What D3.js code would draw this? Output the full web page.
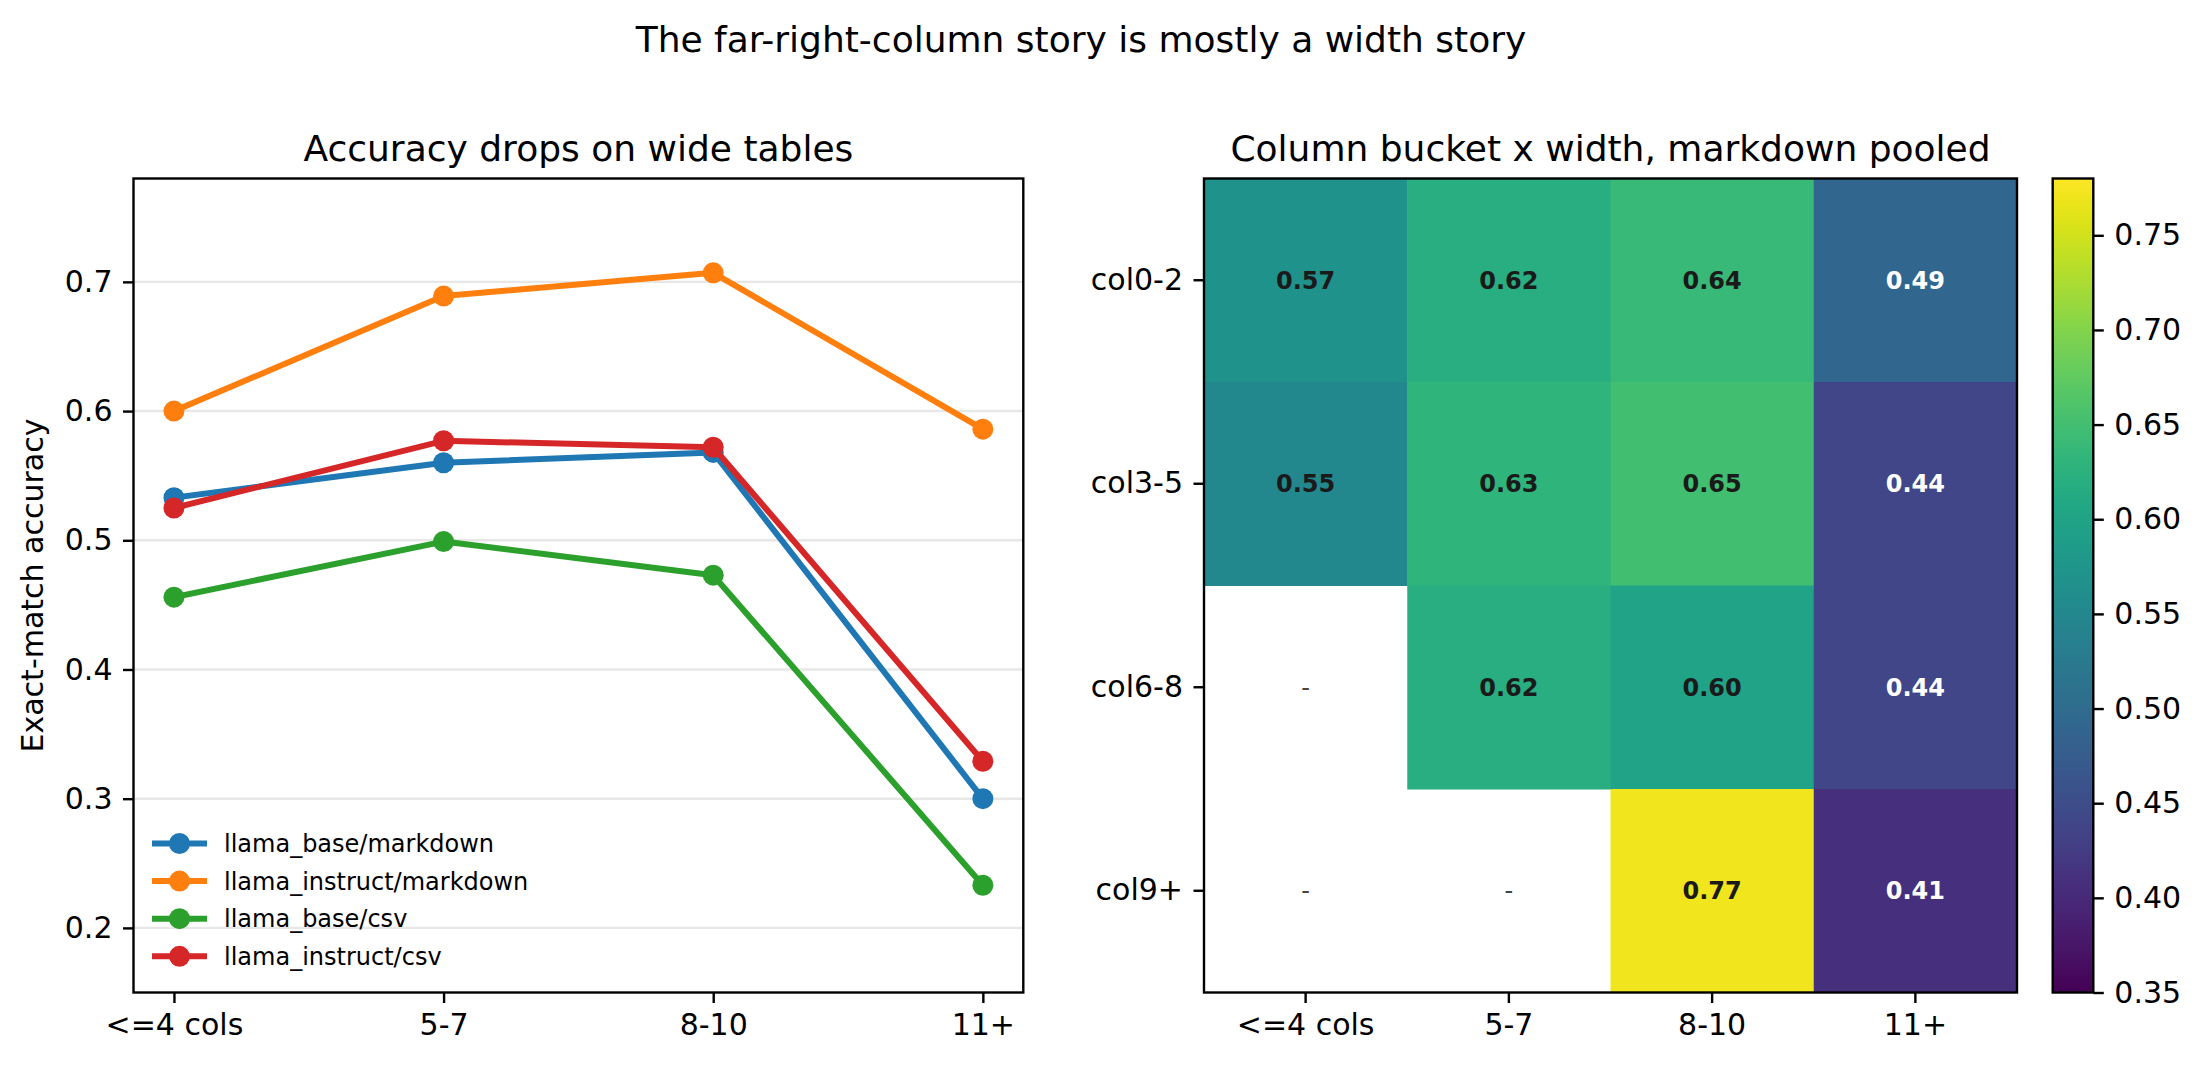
<!DOCTYPE html>
<html>
<head>
<meta charset="utf-8">
<script src="https://cdn.jsdelivr.net/npm/d3@7"></script>
<style>
  body { margin: 0; background: #fff; }
  svg { display: block; font-family: "DejaVu Sans", sans-serif; }
  .axis path.domain { display: none; }
  .axis line { stroke: #000; stroke-width: 2.4; }
  .axis text { font-size: 30px; fill: #000; font-family: "DejaVu Sans", sans-serif; }
</style>
</head>
<body>
<div id="chart"></div>
<script>

// data
const buckets = ["<=4 cols", "5-7", "8-10", "11+"];
const seriesNames = ["llama_base/markdown", "llama_instruct/markdown", "llama_base/csv", "llama_instruct/csv"];
const seriesColors = ["#1f77b4", "#ff7f0e", "#2ca02c", "#d62728"];
const baseMarkdown = [0.533, 0.560, 0.568, 0.300];
const instructMarkdown = [0.600, 0.689, 0.707, 0.586];
const baseCsv = [0.456, 0.499, 0.473, 0.233];
const instructCsv = [0.525, 0.577, 0.572, 0.329];
const yTicks = [0.2, 0.3, 0.4, 0.5, 0.6, 0.7];

const rowLabels = ["col0-2", "col3-5", "col6-8", "col9+"];
const heatValues = [
    [0.57, 0.62, 0.64, 0.49],
    [0.55, 0.63, 0.65, 0.44],
    [null, 0.62, 0.60, 0.44],
    [null, null, 0.77, 0.41]
];
const cbarTicks = [0.35, 0.40, 0.45, 0.50, 0.55, 0.60, 0.65, 0.70, 0.75];

const W = 2204, H = 1065;

const svg = d3.select("#chart").append("svg")
    .attr("width", W)
    .attr("height", H);

// suptitle
svg.append("text")
    .attr("x", 1081).attr("y", 52)
    .attr("text-anchor", "middle")
    .style("font-size", "36px")
    .text("The far-right-column story is mostly a width story");

// ---------- left: line chart ----------
const L = {left: 133.5, right: 1023.3, top: 178.5, bottom: 992.5};

const x = d3.scalePoint()
    .domain(buckets)
    .range([L.left, L.right])
    .padding(0.15);

const y = d3.scaleLinear()
    .domain([0.15, 0.78])
    .range([L.bottom, L.top]);

// grid
svg.append("g")
    .selectAll("line")
    .data(yTicks)
    .join("line")
    .attr("x1", L.left).attr("x2", L.right)
    .attr("y1", d => y(d)).attr("y2", d => y(d))
    .attr("stroke", "#b0b0b0")
    .attr("stroke-opacity", 0.3)
    .attr("stroke-width", 2.4);

const series = [baseMarkdown, instructMarkdown, baseCsv, instructCsv];

const line = d3.line()
    .x((d, i) => x(buckets[i]))
    .y(d => y(d));

series.forEach((vals, k) => {
    svg.append("path")
        .datum(vals)
        .attr("d", line)
        .attr("fill", "none")
        .attr("stroke", seriesColors[k])
        .attr("stroke-width", 6)
        .attr("stroke-linejoin", "round")
        .attr("stroke-linecap", "square");
    svg.append("g")
        .selectAll("circle")
        .data(vals)
        .join("circle")
        .attr("cx", (d, i) => x(buckets[i]))
        .attr("cy", d => y(d))
        .attr("r", 10.5)
        .attr("fill", seriesColors[k]);
});

svg.append("g")
    .attr("class", "axis")
    .attr("transform", `translate(0, ${L.bottom})`)
    .call(d3.axisBottom(x).tickSize(10.5).tickPadding(10.5));

svg.append("g")
    .attr("class", "axis")
    .attr("transform", `translate(${L.left}, 0)`)
    .call(d3.axisLeft(y).tickValues(yTicks).tickFormat(d3.format(".1f")).tickSize(10.5).tickPadding(10.5));

svg.append("rect")
    .attr("x", L.left).attr("y", L.top)
    .attr("width", L.right - L.left).attr("height", L.bottom - L.top)
    .attr("fill", "none").attr("stroke", "#000").attr("stroke-width", 2.4);

svg.append("text")
    .attr("transform", `translate(43, ${(L.top + L.bottom) / 2}) rotate(-90)`)
    .attr("text-anchor", "middle")
    .style("font-size", "30px")
    .text("Exact-match accuracy");

svg.append("text")
    .attr("x", (L.left + L.right) / 2).attr("y", 161)
    .attr("text-anchor", "middle")
    .style("font-size", "36px")
    .text("Accuracy drops on wide tables");

// legend
const leg = svg.append("g")
    .selectAll("g")
    .data(seriesNames)
    .join("g")
    .attr("transform", (d, i) => `translate(152, ${843.5 + i * 37.6})`);
leg.append("line")
    .attr("x1", 0).attr("x2", 55)
    .attr("stroke", (d, i) => seriesColors[i])
    .attr("stroke-width", 6);
leg.append("circle")
    .attr("cx", 27.5).attr("r", 10.5)
    .attr("fill", (d, i) => seriesColors[i]);
leg.append("text")
    .attr("x", 72).attr("dy", "0.35em")
    .style("font-size", "24px")
    .text(d => d);

// ---------- right: heatmap ----------
const R = {left: 1204, right: 2017, top: 178.5, bottom: 992.5};

const hx = d3.scaleBand().domain(buckets).range([R.left, R.right]);
const hy = d3.scaleBand().domain(rowLabels).range([R.top, R.bottom]);
const color = d3.scaleSequential(d3.interpolateViridis).domain([0.35, 0.78]);

const cells = [];
heatValues.forEach((row, r) => row.forEach((v, c) => cells.push({row: rowLabels[r], col: buckets[c], v})));

svg.append("g")
    .selectAll("rect")
    .data(cells.filter(d => d.v !== null))
    .join("rect")
    .attr("x", d => hx(d.col))
    .attr("y", d => hy(d.row))
    .attr("width", hx.bandwidth() + 0.5)
    .attr("height", hy.bandwidth() + 0.5)
    .attr("fill", d => color(d.v));

svg.append("g")
    .selectAll("text")
    .data(cells)
    .join("text")
    .attr("x", d => hx(d.col) + hx.bandwidth() / 2)
    .attr("y", d => hy(d.row) + hy.bandwidth() / 2)
    .attr("dy", "0.36em")
    .attr("text-anchor", "middle")
    .style("font-size", "24px")
    .style("font-weight", d => d.v === null ? "normal" : "bold")
    .attr("fill", d => d.v === null ? "#444" : (d.v < 0.5 ? "#fff" : "#1a1a1a"))
    .text(d => d.v === null ? "-" : d3.format(".2f")(d.v));

svg.append("g")
    .attr("class", "axis")
    .attr("transform", `translate(0, ${R.bottom})`)
    .call(d3.axisBottom(hx).tickSize(10.5).tickPadding(10.5));

svg.append("g")
    .attr("class", "axis")
    .attr("transform", `translate(${R.left}, 0)`)
    .call(d3.axisLeft(hy).tickSize(10.5).tickPadding(10.5));

svg.append("rect")
    .attr("x", R.left).attr("y", R.top)
    .attr("width", R.right - R.left).attr("height", R.bottom - R.top)
    .attr("fill", "none").attr("stroke", "#000").attr("stroke-width", 2.4);

svg.append("text")
    .attr("x", (R.left + R.right) / 2).attr("y", 161)
    .attr("text-anchor", "middle")
    .style("font-size", "36px")
    .text("Column bucket x width, markdown pooled");

// colorbar
const C = {left: 2052.7, right: 2093.3, top: 178.5, bottom: 992.5};
const cy = d3.scaleLinear().domain([0.35, 0.78]).range([C.bottom, C.top]);

const grad = svg.append("defs").append("linearGradient")
    .attr("id", "cbar")
    .attr("x1", 0).attr("y1", 1).attr("x2", 0).attr("y2", 0);
grad.selectAll("stop")
    .data(d3.range(0, 1.0001, 0.02))
    .join("stop")
    .attr("offset", d => d)
    .attr("stop-color", d => d3.interpolateViridis(d));

svg.append("rect")
    .attr("x", C.left).attr("y", C.top)
    .attr("width", C.right - C.left).attr("height", C.bottom - C.top)
    .attr("fill", "url(#cbar)")
    .attr("stroke", "#000").attr("stroke-width", 2.4);

svg.append("g")
    .attr("class", "axis")
    .attr("transform", `translate(${C.right}, 0)`)
    .call(d3.axisRight(cy).tickValues(cbarTicks).tickFormat(d3.format(".2f")).tickSize(10.5).tickPadding(10.5));

</script>
</body>
</html>
